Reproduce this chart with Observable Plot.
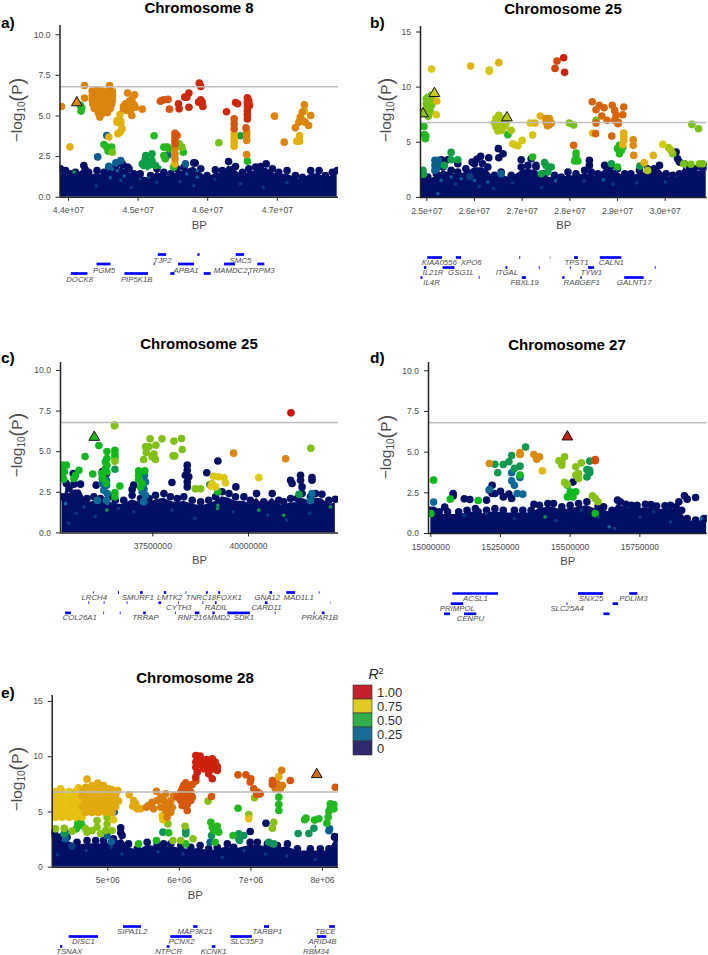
<!DOCTYPE html>
<html><head><meta charset="utf-8">
<script src="https://cdn.jsdelivr.net/npm/d3@7"></script>
<script src="https://cdn.jsdelivr.net/npm/@observablehq/plot@0.6"></script>
<style>
html,body{margin:0;padding:0;background:#fff}
#c{position:relative;width:708px;height:955px;overflow:hidden;font-family:"Liberation Sans",Arial,sans-serif}
#c svg{position:absolute;overflow:visible;background:transparent}
.t{position:absolute;white-space:nowrap;transform:translate(-50%,-50%);color:#000}
.title{font-weight:bold;font-size:15px}
.tag{font-weight:bold;font-size:15.5px;transform:translate(0,-50%)}
.yl{color:#4d4d4d;font-size:15.5px;transform:translate(-50%,-50%) rotate(-90deg);line-height:1}
.yl sub{font-size:10px;vertical-align:-3px;line-height:0}
.yl span{font-size:20px;font-weight:300;vertical-align:-1.5px;line-height:0}
</style></head><body><div id="c"></div>
<script>
// Positions are BP in millions; values are -log10(P)
const palette=["#000f66","#0d6a96","#10b820","#e6c80f","#c90a0a"];
const r2Stops=[0,.25,.5,.75,1];
const threshold=6.8;

// ---- a) Chromosome 8
const aSky=[[43.885,1.75],[43.957,1.64],[44.03,1.44],[44.1,1.54],[44.22,1.95],[44.29,1.54],[44.41,1.64],[44.51,1.54],[44.58,1.85],[44.675,1.85],[44.77,2.05],[44.87,1.75],[44.94,1.44],[45.03,1.44],[45.18,1.33],[45.27,1.75],[45.37,1.54],[45.47,1.44],[45.56,1.75],[45.66,1.85],[45.8,2.11],[45.9,1.75],[45.99,1.33],[46.11,1.68],[46.21,1.64],[46.3,2.2],[46.4,1.89],[46.5,1.54],[46.59,1.75],[46.69,1.85],[46.76,1.89],[46.84,2.05],[46.93,1.75],[47.02,1.54],[47.14,1.64],[47.26,1.33],[47.36,1.23],[47.48,1.64],[47.6,1.64],[47.69,1.33],[47.79,1.54],[47.86,1.64]];
const aRed=[[45.88,7.02],[45.9,6.82],[45.73,6.41],[45.7,6.16],[45.67,6.16],[45.58,5.75],[45.59,5.44],[45.73,5.54],[45.9,6],[45.92,5.85],[45.87,5.85],[45.93,5.58],[46.4,5.83],[46.43,5.75],[46.27,5.26],[46.57,6.12],[46.57,5.85],[46.57,5.58],[46.57,5.34],[46.57,5.09],[46.57,4.82],[46.59,5.95],[46.6,5.65]];
const aRedOrange=[[45.34,5.95],[45.37,6],[45.43,6.02],[45.32,5.91],[45.45,5.42],[46.38,4.82],[46.38,4.52],[46.38,4.21],[45.53,3.94],[45.53,3.7],[45.53,3.49],[45.53,3.28],[46.55,4.27],[45.56,3.8]];
const aOrange=[[44.34,6.53],[44.41,6.6],[44.48,6.53],[44.56,6.5],[44.63,6.5],[44.34,6.26],[44.41,6.26],[44.48,6.26],[44.56,6.26],[44.63,6.26],[44.34,5.99],[44.41,5.99],[44.48,5.99],[44.56,5.99],[44.63,5.99],[44.35,5.73],[44.41,5.73],[44.48,5.73],[44.56,5.73],[44.62,5.73],[44.37,5.46],[44.41,5.46],[44.48,5.46],[44.56,5.46],[44.6,5.46],[44.43,5.19],[44.5,5.19],[44.56,5.22],[44.45,4.93],[44.59,6.88],[44.23,6.88],[44.23,6.1],[43.9,5.58],[44.85,6.41],[44.95,6.3],[44.91,6.02],[44.87,5.89],[44.82,5.75],[44.94,5.71],[44.79,5.58],[44.87,5.58],[44.96,5.54],[44.84,5.34],[44.79,5.44],[45.06,5.42],[44.91,5.03],[44.89,5.34],[46.56,4],[46.56,3.8],[46.56,3.49],[46.56,2.63],[45.53,2.98],[45.53,2.67],[45.53,2.36],[46.96,4.99],[47.1,3.39],[47.26,4.27],[47.39,5.69],[47.36,5.24],[47.33,4.93],[47.4,4.62],[47.48,5.03],[47.45,4.41],[47.31,4.62]];
const aAmber=[[44.74,5.09],[44.75,4.68],[44.7,4.62],[44.75,4.52],[44.77,4.21],[44.71,3.9],[44.74,4],[44.7,4.72],[44.58,3.7],[46.38,3.9],[46.38,3.65],[46.38,3.39],[46.38,3.14],[45.53,2.05],[47.32,3.8],[47.32,3.45],[47.28,3.45],[47.36,4.76],[44.02,3.1],[47.39,5.3]];
const aLime=[[45.59,3.28],[45.63,3.08],[46.16,3.35],[44.63,2.77]];
const aGreen=[[44.17,5.65],[44.19,5.5],[44.18,5.3],[44.51,3.24],[44.55,3.08],[44.62,3.08],[44.57,2.83],[45.37,3.08],[45.42,3.08],[45.37,2.57],[45.39,2.36],[45.44,2.98],[45.65,2.77],[46.57,2.22],[45.23,3.78],[45.51,1.85]];
const aTeal=[[45.11,2.57],[45.2,2.67],[45.06,2.05],[45.13,2.26],[45.2,2.26],[45.08,1.95],[45.15,1.95],[45.13,1.75],[45.25,1.95],[45.31,1.85],[46.47,3.78],[45.1,2.3],[45.17,2.1],[44.08,1.55]];
const aBlue=[[44.55,3.8],[44.42,2.48],[45.43,2.6],[44.68,2.11],[44.75,2.26],[44.58,1.9],[44.63,1.75],[44.7,1.64],[45.68,2.05],[45.85,1.64],[44.8,1.3],[45.7,1.44],[45.85,1.23],[44.6,1.2]];
const aFaint=[[44.75,1.03],[45.03,1.13],[45.27,.92],[46.47,.82],[47.14,.9],[44.4,.7],[45.6,.95],[46.8,.6],[44.9,.6],[45.15,1.2],[45.8,.7],[46.1,1.1]];
const aNavyHigh=[[44.78,2],[44.85,1.85],[45.82,2.1],[44.24,1.7],[46.35,1.7]];
const aTri=[[44.12,5.82,.84]];
const aTicksX=[44,45,46,47];
const aLabelsX=["4.4e+07","4.5e+07","4.6e+07","4.7e+07"];
const aGenes=[["TJP2",45.29,45.41,0,45.35],["",45.86,45.89,0,0],["SMC5",46.41,46.53,0,46.47],["PGM5",44.41,44.61,1,44.51],["APBA1",45.58,45.81,1,45.69],["MAMDC2",46.24,46.4,1,46.33],["TRPM3",46.72,46.82,1,46.77],["",45.23,45.245,1,0],["DOCK8",44.04,44.28,2,44.16],["PIP5K1B",44.81,45.15,2,44.98],["",45.47,45.53,2,0],["",45.95,46.05,2,0],["",46.59,46.6,2,0]];

// ---- b) Chromosome 25
const bSky=[[24.88,2.15],[25.02,1.84],[25.2,2.15],[25.34,2.75],[25.51,2.45],[25.65,2.3],[25.82,2.6],[26,3.05],[26.17,3.05],[26.28,2.75],[26.42,2],[26.56,2.3],[26.77,2],[26.98,2.75],[27.12,2.9],[27.29,2.75],[27.47,2.15],[27.68,2],[27.82,1.84],[27.96,2.3],[28.13,2.15],[28.31,2.45],[28.45,2.3],[28.59,2.15],[28.73,2.9],[28.87,2.9],[29,2.6],[29.15,2.15],[29.28,2.15],[29.46,2.45],[29.63,2.6],[29.77,2.6],[29.88,2.9],[30.02,2.15],[30.16,2],[30.3,2.15],[30.4,3.05],[30.51,2.6],[30.61,2.6],[30.75,2.75],[30.86,2.81]];
const bNavyHigh=[[26.5,4.42],[26.6,3.96],[26.51,3.6],[26.13,3.72],[26.3,3.6],[25.65,3.05],[25.44,3.42],[25.31,3.42],[28.41,3.36],[30.23,4.11],[30.26,3.51],[26.98,3.42],[27.19,3.51],[27.29,2.9],[25.95,3.2],[26.05,3.45],[28.41,2.9],[28.85,2.8],[30.3,3.2]];
const bRed=[[27.87,12.67],[27.89,11.34]];
const bRed2=[[27.73,12.37],[27.69,11.7]];
const bRedOrange=[[28.47,8.68],[28.55,7.95],[28.62,8.35],[28.72,8.13],[28.67,7.38],[28.78,6.99],[28.89,8.35],[28.94,7.89],[28.97,7.44],[28.94,6.99],[29.13,8.2],[29.11,7.5],[29.01,6.68],[28.55,6.74],[28.54,5.78],[28.88,5.56],[28.08,4.72],[29.02,6.8]];
const bOrange=[[27.5,6.83],[27.57,7.14],[27.5,7.14],[27.61,6.74],[27.53,6.5],[27.57,6.59],[29.33,5.23],[29.33,4.72],[29.34,3.81]];
const bAmber=[[25.21,8.74],[25.92,11.91],[26.51,12.22],[27.38,7.38],[27.27,6.74],[29.13,5.84],[29.13,5.47],[29.13,5.17],[29.11,4.78],[29.56,3.15],[29.75,3.81]];
const bYellow=[[25.1,11.64],[25.2,7.5],[26.31,11.43],[26.31,11.55],[27.17,6.74],[27.22,5.66],[28.48,5.84],[26.8,4.87],[26.85,4.78],[26.91,4.69],[27,5.17],[29.95,4.81]];
const bOlive=[[26.51,7.44],[26.45,7.14],[26.56,7.14],[26.42,6.74],[26.5,6.74],[26.59,6.74],[26.66,6.68],[26.45,6.38],[26.54,6.32],[26.63,6.44],[26.49,6.02],[26.57,6.08],[26.51,7.08],[26.77,6.08],[29.63,2.45],[30.07,4.51],[30.12,4.26]];
const bLime=[[24.99,8.95],[25.03,9.1],[25.1,9.25],[24.99,8.5],[25.06,8.65],[25.13,8.8],[24.99,8.04],[25.06,8.2],[25,7.74],[25.08,7.74],[25.03,7.35],[25.1,8.35],[27.99,6.74],[28.08,6.56],[28.55,6.99],[30.16,3.96],[30.56,6.62],[30.7,6.23],[30.54,3],[30.72,3.05],[30.79,3.05],[30.39,3.05]];
const bGreen=[[24.94,6.44],[24.95,5.69],[24.98,5.56],[24.97,5.32],[26.7,5.69],[29.04,4.72],[29.11,4.57],[29,4.42],[29.08,4.26],[29.04,3.96],[29,2.75],[28.13,4.02],[28.13,3.66],[28.1,3.3],[28.17,3.3],[27.22,3.66],[29.06,4.3],[29.03,4.45]];
const bTeal=[[29.47,2.84],[25.51,4.08],[25.51,3.42],[25.37,2.9],[25.65,3.42],[27.47,3.15],[27.5,2.9],[27.61,2.75],[27.54,2.3],[27.4,2.15],[24.92,2.45],[24.93,2.1],[28.87,3.05]];
const bBlue=[[25.17,3.36],[25.17,2.9],[25.17,2.45],[25.24,3.36],[25.24,2.9],[25.2,3.1],[25.2,2.6],[25.3,1.54],[25.51,1.84],[25.72,1.69],[26,1.54],[26.28,1.39],[25.23,.33],[26.56,2.15],[28.7,1.6],[27.7,1.5]];
const bFaint=[[25.9,1.9],[26.1,1],[28.9,1.2],[29.4,1.3],[26.8,1.3],[27.4,.9],[30,1.4],[25.6,1.2],[26.4,.8],[28.3,1.5]];
const bTri=[[25.16,9.43,.72],[24.92,7.59,.65],[26.68,7.23,.69]];
const bTicksX=[25,26,27,28,29,30];
const bLabelsX=["2.5e+07","2.6e+07","2.7e+07","2.8e+07","2.9e+07","3.0e+07"];
const bGenes=[["KIAA0556",25.02,25.33,0,25.26],["XPO6",25.62,25.73,0,25.93],["",26.95,26.97,0,0],["",27.59,27.6,0,0],["TPST1",28.1,28.18,0,28.14],["CALN1",28.64,29.09,0,28.87],["IL21R",24.95,25,1,25.13],["GSG1L",25.34,25.59,1,25.72],["ITGAL",26.66,26.7,1,26.68],["",27.36,27.38,1,0],["",28.01,28.03,1,0],["TYW1",28.39,28.52,1,28.45],["",29.79,29.81,1,0],["IL4R",24.88,24.92,2,25.1],["",26.1,26.12,2,0],["FBXL19",27,27.09,2,27.05],["RABGEF1",27.85,27.9,2,28.25],["",28.23,28.26,2,0],["GALNT17",29.15,29.56,2,29.35]];

// ---- c) Chromosome 25
const cSky=[[35.13,2.22],[35.24,3.04],[35.31,2.73],[35.44,3],[35.61,3],[35.78,2.11],[35.96,2.22],[36.13,2.11],[36.35,2.22],[36.52,2.01],[36.74,2.01],[36.96,2.32],[37.18,2.11],[37.4,2.11],[37.57,2.32],[37.79,2.42],[37.96,2.22],[38.14,2.11],[38.31,2.22],[38.53,2.01],[38.75,1.91],[38.96,2.01],[39.14,2.22],[39.31,2.53],[39.49,2.42],[39.66,2.22],[39.88,2.22],[40.05,2.01],[40.21,2.42],[40.4,1.91],[40.62,2.42],[40.79,2.01],[40.92,1.91],[41.1,2.11],[41.27,2.11],[41.4,2.42],[41.62,2.22],[41.75,2.42],[41.92,2.38],[42.1,2.01],[42.27,2.07]];
const cNavyHigh=[[36.18,3.76],[36.29,3.65],[36.02,2.94],[35.42,3.65],[38,3.1],[38.91,3.7],[39.2,4.43],[39.67,2.83],[41.1,3.24],[41.14,3.04],[41.36,3.55],[41.36,3.24],[41.4,2.83],[41.66,3.41],[41.66,3.24],[38.4,4.17],[38.4,3.86],[38.35,3.55],[38.44,3.45],[38.4,3.14],[38.4,2.83],[37,2.94],[36.96,2.67]];
const cRed=[[41.11,7.39]];
const cOrange=[[39.61,4.91],[40.97,4.56]];
const cYellow=[[40.27,3.41],[39.09,3.49],[39.22,3.45],[39.36,3.39],[39.05,3.04],[39.14,2.83],[39.4,3.08],[39.03,2.87]];
const cLime=[[36.5,6.59],[36.5,6.65],[37.43,5.79],[37.74,5.79],[38.05,5.65],[38.25,5.81],[38.27,5.13],[37.31,5.3],[37.4,5.3],[37.58,5.4],[37.33,4.95],[37.53,4.85],[38.03,4.74],[38.07,4.74],[37.26,4.52],[37.48,4.68],[37.57,4.52],[38.61,2.71],[38.75,2.71],[36.51,4.41],[41.63,5.21]];
const cGreen=[[36.09,5.38],[35.73,4.7],[36.3,5.01],[35.93,3.63],[36.3,4.58],[36.26,4.37],[36.3,4.17],[36.26,3.96],[36.3,3.76],[36.17,3.65],[36.51,5.09],[36.51,4.85],[36.51,4.64],[36.51,2.48],[36.51,2.22],[35.13,4.17],[35.24,4.17],[35.13,3.9],[35.19,3.76],[35.13,3.55],[35.17,3.31],[35.57,3.86],[35.48,3.55],[35.44,3.35],[37.13,3.82],[37.29,3.82],[37.13,3.55],[37.13,3.29],[37.22,3.04],[37.18,2.83],[39.2,2.53],[36.64,2.89],[36.2,3.35],[36.28,3.05]];
const cTeal=[[36.51,3.92],[38.99,2.98],[41.32,2.38],[39.2,1.7],[40.27,1.4],[40.92,1.09],[42.14,1.6],[36.3,1.4],[39.19,1.5]];
const cBlue=[[36.18,3.35],[36.29,3.24],[36.18,3.04],[36.29,2.94],[36.22,2.63],[36.31,2.42],[36.29,2.01],[37.28,3.55],[37.22,2.83],[37.31,3.14],[37.22,2.53],[37.31,2.32],[37.26,1.91],[37.27,2.7],[35.22,1.8],[36.05,2],[36.31,1.8],[41.62,2],[41.66,2.42]];
const cFaint=[[35.5,1.2],[36,1],[37,1.3],[38,1.4],[38.6,.9],[40.5,1.1],[41.6,1.2],[35.3,.6],[35.7,1.6],[36.6,1.5],[39.6,1.3],[41,.8]];
const cTri=[[35.97,5.89,.52]];
const cTicksX=[37.5,40];
const cLabelsX=["37500000","40000000"];
const cGenes=[["LRCH4",35.95,35.97,0,35.97],["",36.6,36.63,0,0],["SMURF1",37.18,37.25,0,37.11],["LMTK2",37.8,37.86,0,37.94],["",38.37,38.39,0,0],["TNRC18",38.9,38.95,0,38.76],["FOXK1",39.22,39.27,0,39.49],["GNA12",40.56,40.63,0,40.49],["MAD1L1",41,41.23,0,41.31],["",41.85,41.87,0,0],["",35.83,35.85,1,0],["",36.23,36.25,1,0],["",36.83,36.85,1,0],["CYTH3",37.66,37.73,1,38.18],["",38.17,38.19,1,0],["",38.81,38.83,1,0],["RADIL",39.14,39.18,1,39.16],["CARD11",40.44,40.51,1,40.47],["",42.16,42.17,1,0],["COL26A1",35.22,35.37,2,35.59],["",36.22,36.24,2,0],["",36.65,36.67,2,0],["TRRAP",37.26,37.33,2,37.31],["RNF216",38.61,38.73,2,38.53],["",38.1,38.12,2,0],["MMD2",39.07,39.13,2,39.22],["SDK1",39.46,40.05,2,39.88],["",40.7,40.72,2,0],["",41.72,41.74,2,0],["PRKAR1B",41.93,42,2,41.86]];

// ---- d) Chromosome 27
const dSky=[[15,1.43],[15.03,1.33],[15.06,1.33],[15.1,1.33],[15.13,1.43],[15.16,1.54],[15.17,1.33],[15.2,1.43],[15.23,1.54],[15.26,1.43],[15.3,1.43],[15.33,1.43],[15.36,1.43],[15.39,1.74],[15.42,1.84],[15.44,1.84],[15.47,1.64],[15.5,1.74],[15.53,1.84],[15.56,1.95],[15.6,1.64],[15.62,1.64],[15.65,1.43],[15.67,2.05],[15.68,1.95],[15.7,1.8],[15.72,1.74],[15.74,1.74],[15.77,1.8],[15.79,1.78],[15.81,1.68],[15.84,1.7],[15.86,1.74],[15.88,1.64],[15.89,1.95],[15.9,1.43],[15.92,.92],[15.95,.82],[15.98,.92],[15.99,.92]];
const dNavyHigh=[[15.22,2.97],[15.21,2.66],[15.22,2.46],[15.25,2.6],[15.23,2.46],[15.26,2.25],[15.28,2.42],[15.29,2.15],[15.08,2.46],[15.08,2.3],[15.12,2.13],[15.14,2.09],[15.2,2.05],[15.05,1.62],[15.01,1.43],[15.51,3.16],[15.37,1.8],[15.91,2.32],[15.92,2.11],[15.95,2.21]];
const dRed=[[15.59,4.47],[15.59,4.55]];
const dOrange=[[15.21,4.3],[15.32,4.98],[15.32,4.86],[15.37,4.86],[15.39,4.71],[15.38,4.57]];
const dYellow=[[15.4,3.85]];
const dLime=[[15.46,4.47],[15.48,4.71],[15.47,4.2],[15.47,4.4],[15.48,3.14],[15.49,3.03],[15.52,4.1],[15.54,4.34],[15.52,3.59],[15.53,3.69],[15.53,3.38],[15.58,2.32],[15.6,1.95],[15.59,2.15]];
const dGreen=[[15.01,3.28],[15.07,2.11],[15.17,2.03],[15.32,3.59],[15.49,2.97],[15.5,2.56],[15.52,2.56],[15.5,2.36],[15.49,2.25],[15.51,2.25],[15.59,1.23],[15,1.23]];
const dTeal=[[15.23,4.26],[15.26,4.24],[15.28,4.41],[15.29,4.79],[15.34,5.31],[15.24,3.73],[15.3,4],[15.32,4.14],[15.57,4.45],[15.56,3.93],[15.57,3.89],[15.57,3.73],[15.56,3.48],[15.41,1.02]];
const dBlue=[[15.29,3.73],[15.32,3.44],[15.29,3.24],[15.3,2.97],[15.31,2.46],[15.33,2.42],[15.01,1.93],[15.21,2.7],[15.64,.41],[15.97,.92]];
const dFaint=[[15.8,1.33],[15.54,1.43],[15.2,1.23],[15.12,1.1],[15.66,.3],[15.45,.8],[15.75,1],[15.3,.9],[15.6,1],[15.86,.7]];
const dTri=[[15.49,5.94,.98]];
const dTicksX=[15,15.25,15.5,15.75];
const dLabelsX=["15000000","15250000","15500000","15750000"];
const dGenes=[["ACSL1",15.079,15.243,0,15.16],["SNX25",15.53,15.62,0,15.575],["PDLIM3",15.714,15.743,0,15.727],["PRIMPOL",15.073,15.118,1,15.095],["SLC25A4",15.489,15.492,1,15.489],["",15.654,15.673,1,0],["",15.049,15.071,2,0],["CENPU",15.121,15.165,2,15.142],["",15.621,15.643,2,0]];

// ---- e) Chromosome 28
const eSky=[[4.23,3.1],[4.25,3.17],[4.32,2.72],[4.43,2.72],[4.57,2.26],[4.71,2.41],[4.83,2.41],[4.94,2.41],[5.08,2.57],[5.2,2.87],[5.29,2.11],[5.41,1.66],[5.55,2.26],[5.69,2.11],[5.78,2.11],[5.88,2.11],[6.02,1.96],[6.16,1.81],[6.29,1.96],[6.41,1.66],[6.53,1.81],[6.67,2.11],[6.76,1.81],[6.99,2.26],[7.09,2.26],[7.23,2.11],[7.37,1.96],[7.51,2.11],[7.65,1.66],[7.83,1.66],[7.97,1.66],[8.09,1.66],[8.17,2.72],[8.22,2.7]];
const eNavyHigh=[[7.21,3.98],[8.17,2.78],[6.99,3.23],[5.18,3.56],[5.18,3.11],[4.24,2.9],[4.3,2.6]];
const eRed=[[6.23,10.11],[6.29,10.05],[6.23,9.51],[6.28,9.66],[6.23,9.05],[6.25,8.6],[6.23,8.15],[6.38,9.75],[6.46,9.81],[6.36,9.36],[6.43,9.36],[6.5,9.51],[6.53,9.11],[6.39,8.9],[6.46,8.9],[6.53,8.75],[6.41,8.45],[6.46,8],[6.34,8.9],[6.3,9.3],[6.47,9.3]];
const eRedOrange=[[6.82,8.36],[6.93,8.36],[7,8],[6.99,7.7],[7.04,7.09],[7.09,6.79],[7.13,6.64],[7.08,6.58],[6.09,7.64],[6.06,7.39],[6.23,7.79],[6.18,7.48],[6.13,7.24],[6.04,7.09],[6.09,6.94],[6.16,6.79],[6.02,6.79],[5.97,6.34],[6.04,6.49],[6.11,6.49],[6.18,6.34],[6.02,6.04],[6.09,6.04],[6.16,6.04],[6.04,5.58],[6.11,5.67],[6.11,5.13],[6.45,6.4],[7.3,7.85],[7.3,7.48],[7.55,7.85],[8.18,7.24]];
const eOrange=[[5.68,6.88],[5.81,6.64],[5.78,6.04],[5.88,6.04],[5.74,6.34],[5.83,5.58],[5.9,5.43],[5.69,6.04],[5.62,5.88],[5.57,5.58],[5.54,5.43],[5.64,5.28],[5.74,5.43],[5.81,5.13],[5.88,4.98],[5.83,4.53],[5.92,6.49],[7.43,8.78],[7.37,7.55],[7.44,7.39],[7.34,7.09],[7.41,7.09]];
const eAmber=[[4.64,6.49],[4.73,6.49],[4.83,6.49],[4.92,6.49],[5.01,6.49],[5.11,6.49],[4.69,5.98],[4.78,5.98],[4.87,5.98],[4.97,5.98],[5.06,5.98],[5.15,5.98],[4.64,5.46],[4.73,5.46],[4.83,5.46],[4.92,5.46],[5.01,5.46],[5.11,5.46],[4.69,4.95],[4.78,4.95],[4.87,4.95],[4.97,4.95],[5.06,4.95],[4.71,7.97],[4.69,7.24],[4.78,7.39],[4.86,7.61],[4.94,7.39],[5.01,7.09],[5.14,6.94],[4.87,7.09],[4.76,6.94],[4.64,6.94],[5.06,6.79],[4.69,7],[4.78,7],[4.87,7],[4.97,7],[5.06,7],[5.3,6.55],[5.36,6.04],[5.35,5.52],[5.41,5.28],[5.46,5.28],[5.39,5.73],[7.39,8.21]];
const eYellow=[[4.27,6.49],[4.36,6.49],[4.46,6.49],[4.55,6.49],[4.23,5.98],[4.32,5.98],[4.41,5.98],[4.5,5.98],[4.59,5.98],[4.27,5.46],[4.36,5.46],[4.46,5.46],[4.55,5.46],[4.23,4.95],[4.32,4.95],[4.41,4.95],[4.5,4.95],[4.59,4.95],[4.27,4.53],[4.36,4.53],[4.46,4.53],[4.55,4.53],[4.64,4.53],[4.34,7.09],[4.59,7.18],[4.52,6.64],[4.27,6.85],[4.36,6.85],[4.46,6.85],[4.55,6.85],[5.76,4.68],[5.77,4.29],[6.97,4.38],[5.08,4.29]];
const eLime=[[5.84,3.92],[6.4,5.98],[7.05,6.28],[6.97,4.77],[4.27,3.47],[4.39,3.53],[4.5,3.26],[4.69,3.47],[4.71,3.17],[4.78,3.32],[4.85,4.23],[4.85,3.62],[4.9,3.02],[4.99,4.53],[4.99,3.92],[4.97,3.32],[5.06,3.32],[7.32,4.07],[7.3,3.53],[6.08,3.71],[6.02,2.41],[6.19,2.57],[5.91,2.41]];
const eGreen=[[6.82,5.34],[7.39,6.34],[7.39,5.67],[7.39,5.13],[8.11,5.43],[8.16,5.67],[8.09,5.07],[8.16,5.28],[8.11,5.73],[8.08,4.53],[8.06,3.98],[7.77,4.44],[7.75,4.29],[7.89,4.26],[7.95,4.38],[4.58,3.92],[4.62,4.16],[4.64,3.77],[4.56,3.47],[5.43,2.11],[5.68,2.41],[6.09,2.11],[6.44,4.07],[6.46,3.62],[6.53,3.71],[6.48,3.32],[6.55,3.17],[6.5,2.26],[6.75,2.87],[5.85,3.11]];
const eTeal=[[7.66,3.05],[7.81,3.05],[7.88,3.53],[6.09,3.32],[6.45,2.87],[6.83,3.02],[6.9,2.87],[6.84,2.41],[7.25,2.26],[7.32,2.11],[4.39,3.02],[5.77,3.17],[6.09,3.02],[6.83,2.6]];
const eBlue=[[5.09,5.01],[8.1,3.47],[4.41,2.57],[4.99,2.87],[6.43,2.26],[8.09,3.3],[5.05,2.3],[4.42,3.1]];
const eFaint=[[4.7,1.5],[5.05,1.8],[5.7,1.4],[6.05,1.2],[6.6,.9],[7.2,1.2],[7.9,.7],[4.3,1.1],[4.5,1.9],[5.2,1.2],[6.9,1.5],[7.5,1]];
const eTri=[[7.92,8.39,.87]];
const eTicksX=[5,6,7,8];
const eLabelsX=["5e+06","6e+06","7e+06","8e+06"];
const eGenes=[["SIPA1L2",5.22,5.47,0,5.34],["MAP3K21",6.2,6.26,0,6.22],["TARBP1",7.19,7.26,0,7.23],["TBCE",8.1,8.18,0,8.04],["DISC1",4.46,4.87,1,4.66],["PCNX2",5.88,6.18,1,6.03],["SLC35F3",6.72,7.02,1,6.94],["ARID4B",7.93,8.06,1,8],["TSNAX",4.34,4.37,2,4.46],["NTPCR",5.83,5.87,2,5.85],["KCNK1",6.46,6.51,2,6.48],["RBM34",7.9,7.91,2,7.91]];

const ticks10=[0,2.5,5,7.5,10], labels10=["0.0","2.5","5.0","7.5","10.0"];
const ticks15=[0,5,10,15], labels15=["0","5","10","15"];
const legendLabels=["1.00","0.75","0.50","0.25","0"];
const legendFills=["#c4222a","#e0c924","#2fae4a","#176b94","#2e2a6d"];

const c=document.getElementById("c");
function html(cls,txt,x,y){const d=document.createElement("div");d.className="t "+cls;d.innerHTML=txt;d.style.left=x+"px";d.style.top=y+"px";c.appendChild(d);}
const flat=groups=>groups.flatMap(([arr,r2])=>arr.map(([x,y])=>({x,y,r2})));
const isInner=d=>d.r2>0&&d.r2<.45&&d.y<1.9;

function panel(o){
  const dots=flat(o.groups);
  const tri=o.tri.map(([x,y,r2])=>({x,y,r2}));
  const h=o.bottom-o.top;
  const lab=new Map(o.ticksX.map((t,i)=>[t,o.labelsX[i]]));
  const laby=new Map(o.ticksY.map((t,i)=>[t,o.labelsY[i]]));
  const p=Plot.plot({
    width:o.w,height:h+45,marginTop:5,marginBottom:40,marginLeft:o.mL,marginRight:o.mR,
    style:{fontFamily:"Liberation Sans",fontSize:"8.6px",background:"transparent",overflow:"visible"},
    x:{domain:o.xd},y:{domain:[0,o.yMax]},
    color:{type:"linear",domain:r2Stops,range:palette,interpolate:"rgb"},
    marks:[
      Plot.areaY(o.sky,{x:d=>d[0],y:d=>d[1]*.88,fill:palette[0],clip:true}),
      Plot.dot(dots.filter(d=>!isInner(d)),{x:"x",y:"y",fill:"r2",r:3.8,clip:true}),
      Plot.dot(dots.filter(isInner),{x:"x",y:"y",fill:"r2",r:1.8,clip:true}),
      Plot.ruleY([threshold],{stroke:"#bdbdbd",strokeWidth:1.5}),
      Plot.dot(tri,{x:"x",y:"y",fill:"r2",symbol:"triangle",r:4,stroke:"#111",strokeWidth:1,clip:true}),
      Plot.axisX({ticks:o.ticksX,tickFormat:t=>lab.get(t),tickSize:4,tickPadding:6,stroke:"#222",fill:"#4d4d4d",label:null}),
      Plot.axisY({ticks:o.ticksY,tickFormat:t=>laby.get(t),tickSize:4,tickPadding:5.5,stroke:"#222",fill:"#4d4d4d",label:null}),
      Plot.ruleX([o.xd[0]],{stroke:"#222",strokeWidth:1.5}),
      Plot.ruleY([0],{stroke:"#222",strokeWidth:1.5}),
      Plot.text(["BP"],{frameAnchor:"bottom",dy:31.5,fontSize:11.3,fill:"#4d4d4d"})
    ]
  });
  p.style.left=o.left+"px";p.style.top=(o.top-5)+"px";c.appendChild(p);
  // gene track
  const bars=o.genes.map(([name,s,e,row,lx])=>({name,s,e,row,lx}));
  const t=Plot.plot({
    width:o.w,height:42,marginTop:0,marginBottom:0,marginLeft:o.mL,marginRight:o.mR,
    style:{fontFamily:"Liberation Sans",background:"transparent",overflow:"visible"},
    x:{domain:o.xd,axis:null},y:{domain:[0,2],range:[6,6+o.gap],axis:null},
    marks:[
      Plot.ruleY(bars,{x1:"s",x2:"e",y:"row",stroke:"#0000ff",strokeWidth:2.7}),
      Plot.text(bars.filter(d=>d.name),{x:"lx",y:"row",text:"name",dy:o.dy,fontSize:7.8,fontStyle:"italic",fill:"#4d4d4d"})
    ]
  });
  t.style.left=o.left+"px";t.style.top=(o.rowTop-6)+"px";c.appendChild(t);
  html("title",o.title,o.titleX,o.titleY);
  html("tag",o.tag,o.tagX,o.titleY+o.tagDy);
  html("yl",'−log<sub>10</sub><span>(</span>P<span>)</span>',o.ylX,o.ylY);
}

panel({title:"Chromosome 8",tag:"a)",titleX:199,titleY:7,tagX:1,tagDy:16,ylX:17,ylY:110,left:0,w:354,mL:59.5,mR:16,top:25,bottom:196.7,yMax:10.57,xd:[43.878,47.879],
  groups:[[aSky,0],[aNavyHigh,0],[aFaint,.12],[aBlue,.22],[aTeal,.42],[aGreen,.52],[aLime,.62],[aAmber,.78],[aOrange,.84],[aRedOrange,.9],[aRed,.96]],
  sky:aSky,tri:aTri,ticksX:aTicksX,labelsX:aLabelsX,ticksY:ticks10,labelsY:labels10,genes:aGenes,rowTop:254.3,gap:19,dy:6});
panel({title:"Chromosome 25",tag:"b)",titleX:563,titleY:8,tagX:370,tagDy:15,ylX:386,ylY:110,left:354,w:354,mL:66,mR:1.3,top:26,bottom:196.9,yMax:15.5,xd:[24.868,30.881],
  groups:[[bSky,0],[bNavyHigh,0],[bFaint,.12],[bBlue,.22],[bTeal,.42],[bGreen,.52],[bLime,.62],[bOlive,.68],[bYellow,.73],[bAmber,.78],[bOrange,.83],[bRedOrange,.88],[bRed2,.92],[bRed,.97]],
  sky:bSky,tri:bTri,ticksX:bTicksX,labelsX:bLabelsX,ticksY:ticks15,labelsY:labels15,genes:bGenes,rowTop:257,gap:20,dy:4.7});
panel({title:"Chromosome 25",tag:"c)",titleX:199,titleY:343,tagX:1,tagDy:15,ylX:17,ylY:445,left:0,w:354,mL:60,mR:16,top:362.3,bottom:532.7,yMax:10.49,xd:[35.088,42.352],
  groups:[[cSky,0],[cNavyHigh,0],[cFaint,.12],[cBlue,.25],[cTeal,.4],[cGreen,.5],[cLime,.63],[cYellow,.74],[cOrange,.84],[cRed,.99]],
  sky:cSky,tri:cTri,ticksX:cTicksX,labelsX:cLabelsX,ticksY:ticks10,labelsY:labels10,genes:cGenes,rowTop:592.3,gap:20.4,dy:5});
panel({title:"Chromosome 27",tag:"d)",titleX:567,titleY:344,tagX:370,tagDy:14,ylX:386,ylY:447,left:354,w:354,mL:74,mR:1.3,top:362.3,bottom:533.3,yMax:10.51,xd:[14.9917,15.9917],
  groups:[[dSky,0],[dNavyHigh,0],[dFaint,.12],[dBlue,.25],[dTeal,.4],[dGreen,.5],[dLime,.64],[dYellow,.77],[dOrange,.83],[dRed,.91]],
  sky:dSky,tri:dTri,ticksX:dTicksX,labelsX:dLabelsX,ticksY:ticks10,labelsY:labels10,genes:dGenes,rowTop:593,gap:20.3,dy:5});
panel({title:"Chromosome 28",tag:"e)",titleX:195,titleY:677,tagX:1,tagDy:16,ylX:17,ylY:779,left:0,w:354,mL:51.7,mR:16,top:695,bottom:866.7,yMax:15.54,xd:[4.223,8.224],
  groups:[[eSky,0],[eNavyHigh,0],[eFaint,.12],[eBlue,.22],[eTeal,.38],[eGreen,.52],[eLime,.64],[eYellow,.76],[eAmber,.79],[eOrange,.85],[eRedOrange,.9],[eRed,.97]],
  sky:eSky,tri:eTri,ticksX:eTicksX,labelsX:eLabelsX,ticksY:ticks15,labelsY:labels15,genes:eGenes,rowTop:926.3,gap:20,dy:4.7});

// legend
const legend=Plot.plot({
  width:80,height:72,marginTop:0,marginBottom:0,marginLeft:12.3,marginRight:47.7,
  style:{fontFamily:"Liberation Sans",background:"transparent",overflow:"visible"},
  x:{type:"band",domain:[0],padding:0,axis:null},y:{type:"band",domain:legendLabels,padding:0,axis:null},
  marks:[
    Plot.cell(legendLabels,{x:()=>0,y:d=>d,fill:(d,i)=>legendFills[i],stroke:"#333",strokeWidth:.6}),
    Plot.text(legendLabels,{x:()=>0,y:d=>d,text:d=>d,textAnchor:"start",dx:14,fontSize:13,fill:"#333"})
  ]
});
legend.style.left="340px";legend.style.top="684.3px";c.appendChild(legend);
html("","<i>R</i><sup style='font-size:9px'>2</sup>",376,674);
c.lastChild.style.fontSize="14px";c.lastChild.style.color="#222";
</script></body></html>
